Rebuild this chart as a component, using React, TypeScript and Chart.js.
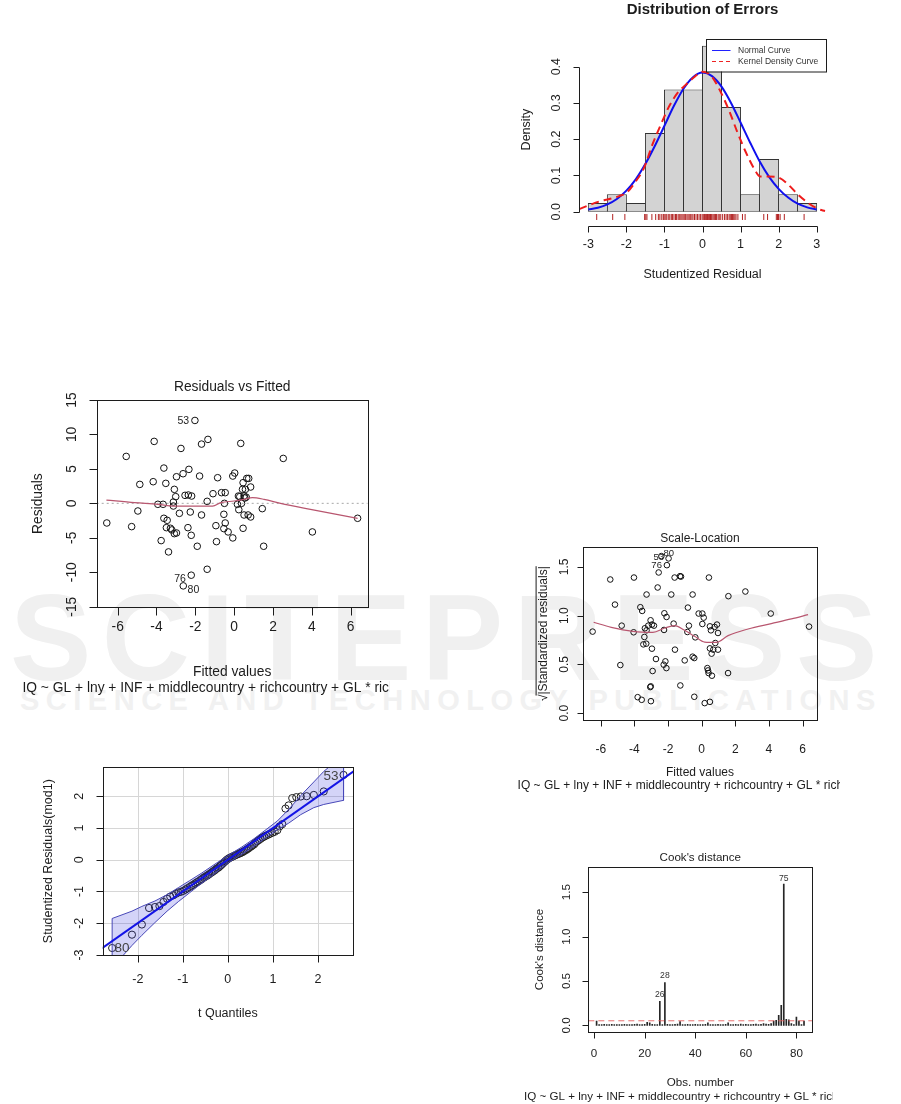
import React, { useEffect, useRef } from 'react';
import { Chart, registerables } from 'chart.js';

Chart.register(...registerables);

const FONT = '"Liberation Sans", Arial, Helvetica, sans-serif';
const INK = '#1c1c1c';

// ================= Panel 1: Distribution of Errors =================
const histMids = [-2.75, -2.25, -1.75, -1.25, -0.75, -0.25, 0.25, 0.75, 1.25, 1.75, 2.25, 2.75];
const histDensity = [0.024, 0.048, 0.024, 0.217, 0.337, 0.337, 0.458, 0.289, 0.048, 0.145, 0.048, 0.024];
const normalCurveX = [-3, -2.75, -2.5, -2.25, -2, -1.75, -1.5, -1.25, -1, -0.75, -0.5, -0.25, 0, 0.25, 0.5, 0.75, 1, 1.25, 1.5, 1.75, 2, 2.25, 2.5, 2.75, 3];
const normalCurveY = [0.006, 0.011, 0.02, 0.035, 0.058, 0.09, 0.132, 0.182, 0.237, 0.292, 0.339, 0.371, 0.384, 0.374, 0.345, 0.3, 0.246, 0.191, 0.139, 0.096, 0.063, 0.039, 0.022, 0.012, 0.006];
const kdeX = [-3.24, -3.0, -2.72, -2.45, -2.19, -1.97, -1.76, -1.54, -1.32, -1.1, -0.88, -0.66, -0.45, -0.23, 0, 0.21, 0.43, 0.69, 0.91, 1.13, 1.35, 1.52, 1.74, 2.0, 2.26, 2.52, 2.79, 3.05, 3.22];
const kdeY = [0.007, 0.017, 0.028, 0.035, 0.043, 0.055, 0.083, 0.12, 0.184, 0.239, 0.29, 0.327, 0.349, 0.37, 0.386, 0.377, 0.34, 0.281, 0.221, 0.166, 0.12, 0.097, 0.097, 0.094, 0.074, 0.046, 0.023, 0.007, 0.002];
// sorted studentized residuals (rug in panel 1, y of the QQ plot)
const studResid = [
  -2.78, -2.36, -2.04, -1.52, -1.49, -1.46, -1.33, -1.23, -1.16, -1.12, -1.07, -1.03, -1.01,
  -0.98, -0.94, -0.9, -0.86, -0.82, -0.79, -0.75, -0.71, -0.68, -0.64, -0.61, -0.57, -0.54, -0.51,
  -0.48, -0.45, -0.41, -0.38, -0.35, -0.32, -0.28, -0.25, -0.21, -0.17, -0.13, -0.09, -0.05, -0.01,
  0.02, 0.05, 0.07, 0.09, 0.11, 0.13, 0.15, 0.17, 0.19, 0.21, 0.23, 0.25, 0.28, 0.31, 0.34, 0.37, 0.41, 0.44, 0.48,
  0.53, 0.58, 0.62, 0.66, 0.7, 0.73, 0.76, 0.79, 0.82, 0.85, 0.88, 0.93,
  1.05, 1.12, 1.61, 1.71, 1.94, 1.97, 1.99, 2.0, 2.04, 2.15, 2.67,
];
const histXTicks = [-3, -2, -1, 0, 1, 2, 3];
const histYTicks = [0, 0.1, 0.2, 0.3, 0.4];
const legendItems = ['Normal Curve', 'Kernel Density Curve'];

// ================= Panel 2: Residuals vs Fitted =================
const fittedRV = [-6.56, -5.56, -5.28, -4.96, -4.86, -4.17, -4.12, -3.93, -3.76, -3.66, -3.62, -3.62, -3.52, -3.45, -3.49, -3.38, -3.28, -3.21, -3.13, -3.13, -3.08, -3.08, -3.01, -2.97, -2.97, -2.82, -2.74, -2.63, -2.53, -2.38, -2.36, -2.33, -2.26, -2.19, -2.21, -2.21, -2.62, -2.02, -1.9, -1.78, -1.68, -1.68, -1.39, -1.39, -1.35, -1.09, -0.91, -0.94, -0.85, -0.65, -0.53, -0.5, -0.46, -0.53, -0.46, -0.31, -0.07, -0.07, 0.03, 0.17, 0.22, 0.24, 0.34, 0.38, 0.43, 0.46, 0.46, 0.51, 0.55, 0.58, 0.65, 0.75, 0.72, 0.85, 0.85, 0.29, 0.51, 0.62, 1.45, 1.52, 2.53, 4.03, 6.36];
const residRV = [-2.85, 6.81, -3.38, -1.11, 2.75, 3.14, 8.99, -0.14, -5.41, -0.14, 5.12, -2.17, 2.9, -2.46, -3.53, -7.05, -3.62, -3.86, 0.19, -0.39, 2.03, -4.4, 0.97, -4.3, 3.86, -1.45, 7.97, 4.3, 1.16, -3.53, 1.21, 4.93, -1.26, 1.06, -4.64, -10.43, -11.98, 12.03, -6.23, 3.96, 8.6, -1.69, 0.29, -9.57, 9.28, 1.4, -5.56, -3.24, 3.72, 1.55, -3.67, 0.0, 1.55, -1.59, -2.85, -4.15, -5.02, 3.96, 4.4, -0.14, 1.06, -0.92, 8.7, 0.0, 2.03, 3.0, -3.62, -1.69, 0.77, 2.03, 3.62, 3.62, -1.69, 2.37, -1.98, 0.97, 1.06, 0.9, -0.77, -6.23, 6.52, -4.15, -2.17];
const lowessRVx = [-6.58, -5.13, -3.93, -3.08, -2.05, -1.11, -0.68, 0, 0.51, 0.94, 1.54, 2.39, 3.93, 6.36];
const lowessRVy = [0.48, 0.1, -0.14, -0.39, -0.39, -0.39, 0.1, 0.34, 0.58, 0.82, 0.58, 0.0, -0.87, -2.17];
const fitXTicks = [-6, -4, -2, 0, 2, 4, 6];
const rvYTicks = [-15, -10, -5, 0, 5, 10, 15];
const rvIds = [
  { text: '53', x: -2.02, y: 12.03, dx: -11.6, dy: 0.6 },
  { text: '76', x: -2.21, y: -10.43, dx: -11.2, dy: 3.5 },
  { text: '80', x: -2.62, y: -11.98, dx: 10.1, dy: 4.5 },
];
const formulaText = 'IQ ~ GL + lny + INF + middlecountry + richcountry + GL * richcountry';

// ================= Panel 3: QQ plot =================
const tQuant = [-2.57, -2.13, -1.91, -1.75, -1.62, -1.52, -1.43, -1.35, -1.28, -1.21, -1.15, -1.1, -1.04, -0.99, -0.94, -0.9, -0.85, -0.81, -0.77, -0.73, -0.69, -0.65, -0.61, -0.58, -0.54, -0.51, -0.47, -0.44, -0.41, -0.37, -0.34, -0.31, -0.28, -0.25, -0.21, -0.18, -0.15, -0.12, -0.09, -0.06, -0.03, 0, 0.03, 0.06, 0.09, 0.12, 0.15, 0.18, 0.21, 0.25, 0.28, 0.31, 0.34, 0.37, 0.41, 0.44, 0.47, 0.51, 0.54, 0.58, 0.61, 0.65, 0.69, 0.73, 0.77, 0.81, 0.85, 0.9, 0.94, 0.99, 1.04, 1.1, 1.15, 1.21, 1.28, 1.35, 1.43, 1.52, 1.62, 1.75, 1.91, 2.13, 2.57];
const bandX = [-2.57, -2.13, -1.91, -1.62, -1.35, -1.1, -0.85, -0.58, -0.31, 0, 0.31, 0.58, 0.85, 1.1, 1.35, 1.62, 1.91, 2.13, 2.57];
const bandUpper = [-1.85, -1.62, -1.47, -1.3, -1.1, -0.88, -0.66, -0.42, -0.16, 0.13, 0.4, 0.66, 0.95, 1.22, 1.58, 2.02, 2.45, 2.78, 3.3];
const bandLower = [-3.4, -2.7, -2.38, -1.98, -1.62, -1.32, -1.04, -0.74, -0.46, -0.1, 0.17, 0.42, 0.7, 0.94, 1.15, 1.42, 1.64, 1.74, 1.87];
const qqLineX = [-2.8, 2.8];
const qqLineY = [-2.79, 2.79];
const qqXTicks = [-2, -1, 0, 1, 2];
const qqYTicks = [-3, -2, -1, 0, 1, 2];
const qqIds = [
  { text: '80', x: -2.57, y: -2.78, dx: 9.8, dy: 0.7 },
  { text: '53', x: 2.57, y: 2.67, dx: -12.5, dy: 1 },
];

// ================= Panel 4: Scale-Location =================
const fittedSL = [-6.49, -5.44, -5.16, -4.84, -4.76, -4.03, -4.05, -3.65, -3.54, -3.28, -3.38, -3.28, -3.18, -3.41, -3.47, -3.3, -3.04, -2.96, -2.84, -2.96, -2.72, -2.92, -3.06, -3.81, -3.57, -3.02, -2.62, -2.56, -2.07, -1.97, -2.4, -1.61, -1.29, -1.23, -1.81, -2.22, -2.09, -1.67, -2.24, -1.59, -2.16, -2.26, -2.1, -0.82, -0.76, -0.54, -0.85, -0.38, -1.01, -0.54, -0.44, -1.27, -0.44, -0.18, 0.04, 0.12, 0.04, 0.43, 0.49, 0.55, 0.77, 0.91, 0.97, 0.81, 0.49, 0.69, 0.97, 0.59, 0.34, 0.38, 0.41, 0.61, 0.18, 0.49, 1.57, 1.59, 2.6, 4.11, 6.39, -3.03];
const sqrtStdSL = [0.836, 1.37, 1.113, 0.493, 0.897, 1.39, 0.829, 1.086, 1.048, 1.216, 0.87, 0.849, 0.897, 0.781, 0.705, 0.712, 0.952, 0.908, 0.897, 0.661, 0.555, 0.432, 0.267, 0.164, 0.137, 0.123, 1.288, 1.442, 1.517, 1.586, 1.61, 1.39, 1.404, 1.4, 1.216, 1.024, 0.986, 0.918, 0.853, 0.651, 0.531, 0.497, 0.462, 1.082, 0.897, 1.216, 0.832, 0.777, 0.541, 0.579, 0.565, 0.284, 0.168, 1.021, 1.021, 0.979, 0.914, 1.39, 0.89, 0.849, 0.884, 0.908, 0.822, 0.719, 0.664, 0.651, 0.651, 0.61, 0.462, 0.438, 0.411, 0.384, 0.103, 0.116, 0.411, 1.199, 1.247, 1.021, 0.887, 0.275];
const lowessSLx = [-6.43, -5.38, -4.09, -2.9, -2.2, -1.61, -1.01, -0.42, 0.18, 0.87, 1.57, 2.76, 4.14, 5.34, 6.33];
const lowessSLy = [0.932, 0.88, 0.839, 0.829, 0.873, 0.897, 0.849, 0.788, 0.729, 0.726, 0.795, 0.863, 0.918, 0.966, 1.01];
const slYTicks = [0, 0.5, 1, 1.5];
const slIds = [
  { text: '80', x: -1.96, y: 1.634, dx: 0, dy: 0 },
  { text: '53', x: -2.55, y: 1.592, dx: 0, dy: 0 },
  { text: '76', x: -2.68, y: 1.517, dx: 0, dy: 0 },
];

// ================= Panel 5: Cook's distance =================
const cooksD = [
  0.05, 0.01, 0.01, 0.012, 0.01, 0.01, 0.012, 0.01, 0.01, 0.01,
  0.01, 0.012, 0.01, 0.01, 0.01, 0.012, 0.015, 0.01, 0.01, 0.012,
  0.035, 0.03, 0.012, 0.01, 0.01, 0.271, 0.01, 0.483, 0.012, 0.01,
  0.01, 0.012, 0.015, 0.045, 0.01, 0.01, 0.012, 0.01, 0.01, 0.012,
  0.01, 0.01, 0.01, 0.012, 0.03, 0.01, 0.01, 0.01, 0.012, 0.01,
  0.01, 0.012, 0.03, 0.01, 0.01, 0.012, 0.01, 0.015, 0.01, 0.012,
  0.01, 0.01, 0.012, 0.015, 0.01, 0.012, 0.02, 0.015, 0.012, 0.02,
  0.05, 0.057, 0.113, 0.226, 1.59, 0.068, 0.064, 0.02, 0.01, 0.094,
  0.05, 0.01, 0.05,
];
const cookCutoff = 0.053;
const cookXTicks = [0, 20, 40, 60, 80];
const cookYTicks = [0, 0.5, 1, 1.5];
const cookIds = [
  { text: '75', x: 75, y: 1.59, dx: 0, dy: -6 },
  { text: '28', x: 28, y: 0.483, dx: 0, dy: -6.6 },
  { text: '26', x: 26, y: 0.271, dx: 0, dy: -6.4 },
];

// ================= helpers =================
const crisp = (p: number) => Math.round(p) + 0.5;
const f0 = (v: number) => String(v);
const f1 = (v: number) => v.toFixed(1);

type Lbl = { text: string; x: number; y: number; dx: number; dy: number };
type RCfg = {
  font: number;
  title?: { text: string; y: number; bold?: boolean; size?: number };
  box?: boolean;
  tick: number;
  xFmt: (v: number) => string;
  yFmt: (v: number) => string;
  xLineY?: number;
  yLine?: boolean;
  xLabelY: number;
  yLabelX: number;
  xlab?: { text: string; y: number };
  sub?: { text: string; y: number };
  ylab?: { text: string; x: number; sqrt?: boolean };
  ids?: Lbl[];
  idSize?: number;
  idColor?: string;
  grid?: string;
  legend?: { w: number; h: number; size: number };
};

function text(ctx: any, s: string, x: number, y: number, size: number, rot = 0, bold = false, color = INK) {
  ctx.save();
  ctx.font = `${bold ? 'bold ' : ''}${size}px ${FONT}`;
  ctx.fillStyle = color;
  ctx.textAlign = 'center';
  ctx.textBaseline = 'middle';
  ctx.translate(x, y);
  if (rot) ctx.rotate(rot);
  ctx.fillText(s, 0, 0);
  ctx.restore();
}

function makeRPlugin(c: RCfg) {
  return {
    id: 'rPlot',
    beforeDatasetsDraw(chart: any) {
      if (!c.grid) return;
      const { ctx, chartArea: a } = chart;
      const xs = chart.scales.x;
      const ys = chart.scales.y;
      ctx.save();
      ctx.strokeStyle = c.grid;
      ctx.lineWidth = 1;
      ctx.beginPath();
      xs.ticks.forEach((t: any) => {
        const p = crisp(xs.getPixelForValue(t.value));
        ctx.moveTo(p, a.top);
        ctx.lineTo(p, a.bottom);
      });
      ys.ticks.forEach((t: any) => {
        const p = crisp(ys.getPixelForValue(t.value));
        ctx.moveTo(a.left, p);
        ctx.lineTo(a.right, p);
      });
      ctx.stroke();
      ctx.restore();
    },
    afterDatasetsDraw(chart: any) {
      const { ctx, chartArea: a } = chart;
      const xs = chart.scales.x;
      const ys = chart.scales.y;
      const xt = xs.ticks.map((t: any) => t.value);
      const yt = ys.ticks.map((t: any) => t.value);
      ctx.save();
      ctx.strokeStyle = INK;
      ctx.lineWidth = 1;
      if (c.box) {
        ctx.strokeRect(crisp(a.left), crisp(a.top), Math.round(a.right) - Math.round(a.left), Math.round(a.bottom) - Math.round(a.top));
      }
      const y0 = crisp(c.xLineY !== undefined ? c.xLineY : a.bottom);
      ctx.beginPath();
      if (c.xLineY !== undefined) {
        ctx.moveTo(crisp(xs.getPixelForValue(xt[0])), y0);
        ctx.lineTo(crisp(xs.getPixelForValue(xt[xt.length - 1])), y0);
      }
      xt.forEach((v: number) => {
        const p = crisp(xs.getPixelForValue(v));
        ctx.moveTo(p, y0);
        ctx.lineTo(p, y0 + c.tick);
      });
      const x0 = crisp(a.left);
      if (c.yLine) {
        ctx.moveTo(x0, crisp(ys.getPixelForValue(yt[0])));
        ctx.lineTo(x0, crisp(ys.getPixelForValue(yt[yt.length - 1])));
      }
      yt.forEach((v: number) => {
        const p = crisp(ys.getPixelForValue(v));
        ctx.moveTo(x0, p);
        ctx.lineTo(x0 - c.tick, p);
      });
      ctx.stroke();
      xt.forEach((v: number) => text(ctx, c.xFmt(v), xs.getPixelForValue(v), c.xLabelY, c.font));
      yt.forEach((v: number) => text(ctx, c.yFmt(v), c.yLabelX, ys.getPixelForValue(v), c.font, -Math.PI / 2));
      const cx = (a.left + a.right) / 2;
      const cy = (a.top + a.bottom) / 2;
      if (c.title) text(ctx, c.title.text, cx, c.title.y, c.title.size || c.font, 0, !!c.title.bold);
      if (c.xlab) text(ctx, c.xlab.text, cx, c.xlab.y, c.font);
      if (c.sub) text(ctx, c.sub.text, cx, c.sub.y, c.font);
      if (c.ylab) {
        if (c.ylab.sqrt) {
          ctx.save();
          ctx.translate(c.ylab.x, cy);
          ctx.rotate(-Math.PI / 2);
          ctx.font = `${c.font}px ${FONT}`;
          ctx.fillStyle = INK;
          ctx.textBaseline = 'middle';
          ctx.textAlign = 'left';
          const body = c.ylab.text;
          const w = ctx.measureText(body).width;
          const rw = ctx.measureText('\u221A').width;
          const sx = -(w + rw) / 2;
          ctx.fillText('\u221A', sx, 0);
          ctx.fillText(body, sx + rw, 0);
          ctx.beginPath();
          ctx.lineWidth = 1;
          ctx.strokeStyle = INK;
          ctx.moveTo(sx + rw * 0.85, -c.font * 0.6);
          ctx.lineTo(sx + rw + w, -c.font * 0.6);
          ctx.stroke();
          ctx.restore();
        } else {
          text(ctx, c.ylab.text, c.ylab.x, cy, c.font, -Math.PI / 2);
        }
      }
      if (c.ids) {
        c.ids.forEach((l) =>
          text(ctx, l.text, xs.getPixelForValue(l.x) + l.dx, ys.getPixelForValue(l.y) + l.dy, c.idSize || c.font, 0, false, c.idColor || INK)
        );
      }
      if (c.legend) {
        const L = c.legend;
        const bx = Math.round(a.right - L.w);
        const by = Math.round(a.top);
        ctx.fillStyle = '#ffffff';
        ctx.fillRect(bx, by, L.w, L.h);
        ctx.strokeStyle = INK;
        ctx.lineWidth = 1;
        ctx.strokeRect(bx + 0.5, by + 0.5, L.w, L.h);
        const rows = [by + 11, by + 22];
        ctx.beginPath();
        ctx.strokeStyle = '#2020ff';
        ctx.moveTo(bx + 6, rows[0] + 0.5);
        ctx.lineTo(bx + 24.5, rows[0] + 0.5);
        ctx.stroke();
        ctx.beginPath();
        ctx.strokeStyle = '#ee2222';
        ctx.setLineDash([4, 3]);
        ctx.moveTo(bx + 6, rows[1] + 0.5);
        ctx.lineTo(bx + 24.5, rows[1] + 0.5);
        ctx.stroke();
        ctx.setLineDash([]);
        ctx.font = `${L.size}px ${FONT}`;
        ctx.fillStyle = '#333';
        ctx.textAlign = 'left';
        ctx.textBaseline = 'middle';
        legendItems.forEach((s, i) => ctx.fillText(s, bx + 32, rows[i] + 0.5));
      }
      ctx.restore();
    },
  };
}

function baseOptions(xmin: number, xmax: number, ymin: number, ymax: number, xTicks: number[], yTicks: number[], pad: any) {
  return {
    responsive: false,
    maintainAspectRatio: false,
    animation: false,
    devicePixelRatio: 1,
    events: [],
    layout: { padding: pad },
    plugins: { legend: { display: false }, tooltip: { enabled: false }, title: { display: false } },
    scales: {
      x: {
        type: 'linear', display: false, offset: false, grid: { offset: false }, min: xmin, max: xmax, ticks: { display: false },
        afterBuildTicks: (s: any) => { s.ticks = xTicks.map((v) => ({ value: v })); },
      },
      y: {
        type: 'linear', display: false, offset: false, grid: { offset: false }, min: ymin, max: ymax, ticks: { display: false },
        afterBuildTicks: (s: any) => { s.ticks = yTicks.map((v) => ({ value: v })); },
      },
    },
  };
}

const pts = (xs: number[], ys: number[]) => xs.map((x, i) => ({ x, y: ys[i] }));
const openCircles = (data: any[], r: number, color = '#111') => ({
  type: 'scatter', data, showLine: false, pointStyle: 'circle', pointRadius: r,
  pointBorderColor: color, borderColor: color, pointBorderWidth: 1, pointBackgroundColor: 'rgba(0,0,0,0)', backgroundColor: 'rgba(0,0,0,0)',
});

// ---------- chart configs ----------
const HX = [-3.24, 3.24];
const HY = [-0.0229, 0.476];
function makeHist() {
  const plugin = makeRPlugin({
    font: 12.5, tick: 6, xFmt: f0, yFmt: f1, xLineY: 225.5, yLine: true, xLabelY: 245, yLabelX: 56.7,
    title: { text: 'Distribution of Errors', y: 10, bold: true, size: 15 },
    xlab: { text: 'Studentized Residual', y: 275 },
    ylab: { text: 'Density', x: 26.7 },
    legend: { w: 120, h: 32.5, size: 8.5 },
  });
  return {
    type: 'scatter',
    data: {
      datasets: [
        {
          type: 'scatter', data: studResid.map((v) => ({ x: v, y: -0.0146 })), showLine: false,
          pointStyle: 'line', pointRotation: 90, pointRadius: 3, pointBorderColor: '#b22222', borderColor: '#b22222', pointBorderWidth: 1, order: 0,
        },
        {
          type: 'scatter', data: pts(kdeX, kdeY), showLine: true, borderColor: '#ee1c1c', borderWidth: 2, borderDash: [8, 5],
          pointRadius: 0, cubicInterpolationMode: 'monotone', order: 1,
        },
        {
          type: 'scatter', data: pts(normalCurveX, normalCurveY), showLine: true, borderColor: '#1010ee', borderWidth: 2,
          pointRadius: 0, cubicInterpolationMode: 'monotone', order: 2,
        },
        {
          type: 'bar', data: pts(histMids, histDensity), backgroundColor: '#d3d3d3', borderColor: '#333333', borderWidth: 1,
          borderSkipped: false, barPercentage: 1.05, categoryPercentage: 1, order: 5,
        },
      ],
    },
    options: baseOptions(HX[0], HX[1], HY[0], HY[1], histXTicks, histYTicks, { left: 79.2, right: 34.2, top: 39.1, bottom: 70 }),
    plugins: [plugin],
  };
}

const FX = [-7.08, 6.88];
function makeRV() {
  const plugin = makeRPlugin({
    font: 13.8, tick: 8, box: true, xFmt: f0, yFmt: f0, xLabelY: 256.7, yLabelX: 71.7,
    title: { text: 'Residuals vs Fitted', y: 16.7 },
    xlab: { text: 'Fitted values', y: 301.7 },
    sub: { text: formulaText, y: 318.3 },
    ylab: { text: 'Residuals', x: 38.3 },
    ids: rvIds, idSize: 10.5,
  });
  return {
    type: 'scatter',
    data: {
      datasets: [
        { ...openCircles(pts(fittedRV, residRV), 3.3), order: 2 },
        { type: 'scatter', data: pts(lowessRVx, lowessRVy), showLine: true, borderColor: '#b8566f', borderWidth: 1.2, pointRadius: 0, cubicInterpolationMode: 'monotone', order: 1 },
        { type: 'scatter', data: [{ x: FX[0], y: 0 }, { x: FX[1], y: 0 }], showLine: true, borderColor: '#a8a8a8', borderWidth: 1, borderDash: [2, 3], pointRadius: 0, order: 3 },
      ],
    },
    options: baseOptions(FX[0], FX[1], -15.09, 15.0, fitXTicks, rvYTicks, { left: 96.7, right: 22.3, top: 30, bottom: 92.7 }),
    plugins: [plugin],
  };
}

function makeQQ() {
  const plugin = makeRPlugin({
    font: 12.5, tick: 7, box: true, xFmt: f0, yFmt: f0, xLabelY: 230, yLabelX: 80,
    xlab: { text: 't Quantiles', y: 263.3 },
    ylab: { text: 'Studentized Residuals(mod1)', x: 48.3 },
    ids: qqIds, idSize: 13.5, idColor: '#444',
    grid: '#d6d6d6',
  });
  const polygon = [...pts(bandX, bandUpper), ...pts(bandX, bandLower).reverse()];
  polygon.push(polygon[0]);
  return {
    type: 'scatter',
    data: {
      datasets: [
        { type: 'scatter', data: pts(qqLineX, qqLineY), showLine: true, borderColor: '#1414e6', borderWidth: 2, pointRadius: 0, order: 1 },
        { type: 'scatter', data: polygon, showLine: true, fill: 'shape', backgroundColor: 'rgba(40,40,220,0.2)', borderColor: '#4848b8', borderWidth: 1, pointRadius: 0, tension: 0, order: 2 },
        { ...openCircles(pts(tQuant, studResid), 3.6, '#222'), order: 3 },
      ],
    },
    options: baseOptions(-2.78, 2.78, -3.0, 2.91, qqXTicks, qqYTicks, { left: 102.7, right: 0, top: 17.3, bottom: 85 }),
    plugins: [plugin],
  };
}

function makeSL() {
  const plugin = makeRPlugin({
    font: 12, tick: 6, box: true, xFmt: f0, yFmt: f1, xLabelY: 230, yLabelX: 65,
    title: { text: 'Scale-Location', y: 18.3 },
    xlab: { text: 'Fitted values', y: 253 },
    sub: { text: formulaText, y: 266 },
    ylab: { text: '|Standardized residuals|', x: 43.3, sqrt: true },
    ids: slIds, idSize: 9.5,
  });
  return {
    type: 'scatter',
    data: {
      datasets: [
        { ...openCircles(pts(fittedSL, sqrtStdSL), 2.8), order: 2 },
        { type: 'scatter', data: pts(lowessSLx, lowessSLy), showLine: true, borderColor: '#b8566f', borderWidth: 1.2, pointRadius: 0, cubicInterpolationMode: 'monotone', order: 1 },
      ],
    },
    options: baseOptions(FX[0], FX[1], -0.07, 1.7, fitXTicks, slYTicks, { left: 82.7, right: 22.7, top: 27.3, bottom: 80 }),
    plugins: [plugin],
  };
}

const CX = [-2.28, 86.28];
function makeCook() {
  const plugin = makeRPlugin({
    font: 11.6, tick: 6, box: true, xFmt: f0, yFmt: f1, xLabelY: 213.3, yLabelX: 66.7,
    title: { text: "Cook's distance", y: 17.3 },
    xlab: { text: 'Obs. number', y: 242.3 },
    sub: { text: formulaText, y: 256.7 },
    ylab: { text: "Cook's distance", x: 40 },
    ids: cookIds, idSize: 8.6, idColor: '#333',
  });
  return {
    type: 'scatter',
    data: {
      datasets: [
        { type: 'scatter', data: [{ x: CX[0], y: cookCutoff }, { x: CX[1], y: cookCutoff }], showLine: true, borderColor: 'rgba(226,88,88,0.85)', borderWidth: 1, borderDash: [6, 4], pointRadius: 0, order: 0 },
        { type: 'bar', data: cooksD.map((d, i) => ({ x: i + 1, y: d })), backgroundColor: '#262626', borderWidth: 0, barThickness: 1, order: 2 },
      ],
    },
    options: baseOptions(CX[0], CX[1], -0.07, 1.78, cookXTicks, cookYTicks, { left: 88.3, right: 20.7, top: 27.3, bottom: 72.3 }),
    plugins: [plugin],
  };
}

type PanelProps = { left: number; top: number; width: number; height: number; make: () => any };
function Panel({ left, top, width, height, make }: PanelProps) {
  const ref = useRef<HTMLCanvasElement | null>(null);
  useEffect(() => {
    if (!ref.current) return;
    const chart = new Chart(ref.current, make() as any);
    return () => chart.destroy();
  }, [make]);
  return (
    <canvas
      ref={ref}
      width={width}
      height={height}
      style={{ position: 'absolute', left, top, width, height, display: 'block' }}
    />
  );
}

export default function App() {
  return (
    <div style={{ position: 'absolute', left: 0, top: 0, width: 901, height: 1104, background: '#fff', overflow: 'hidden' }}>
      <div
        style={{
          position: 'absolute', left: 10, top: 577, fontFamily: FONT, fontWeight: 'bold', fontSize: 122,
          lineHeight: 1, letterSpacing: 10.5, color: '#f0f0f0', whiteSpace: 'nowrap',
        }}
      >
        SCITEPRESS
      </div>
      <div
        style={{
          position: 'absolute', left: 20, top: 686, fontFamily: FONT, fontWeight: 'bold', fontSize: 29,
          lineHeight: 1, letterSpacing: 6.5, color: '#f1f1f1', whiteSpace: 'nowrap',
        }}
      >
        SCIENCE AND TECHNOLOGY PUBLICATIONS
      </div>
      <Panel left={500} top={0} width={360} height={290} make={makeHist} />
      <Panel left={0} top={370} width={390} height={330} make={makeRV} />
      <Panel left={0} top={750} width={358} height={290} make={makeQQ} />
      <Panel left={500} top={520} width={340} height={280} make={makeSL} />
      <Panel left={500} top={840} width={333} height={264} make={makeCook} />
    </div>
  );
}
